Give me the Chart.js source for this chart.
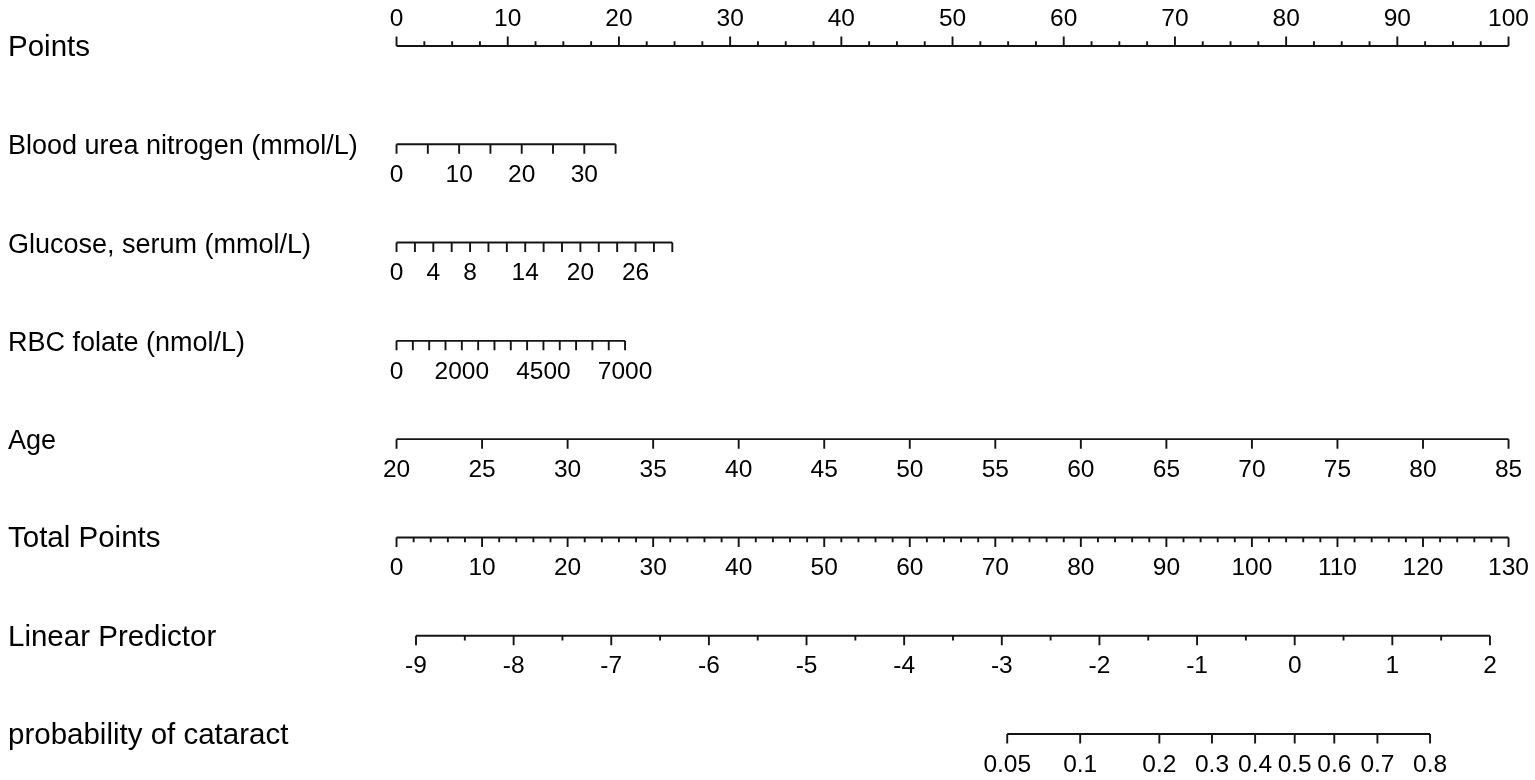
<!DOCTYPE html>
<html>
<head>
<meta charset="utf-8">
<title>Nomogram - probability of cataract</title>
<script src="https://cdn.jsdelivr.net/npm/chart.js@4.4.1/dist/chart.umd.min.js"></script>
<style>
    html, body { margin: 0; padding: 0; background: #ffffff; }
    #wrap { width: 1535px; height: 780px; }
</style>
</head>
<body>
<div id="wrap"><canvas id="nomogram"></canvas></div>
<script>
// Row names, top to bottom
const rowNames = ['Points', 'Blood urea nitrogen (mmol/L)', 'Glucose, serum (mmol/L)',
    'RBC folate (nmol/L)', 'Age', 'Total Points', 'Linear Predictor', 'probability of cataract'];

// Points scale (0-100)
const pointsMajor = [0, 10, 20, 30, 40, 50, 60, 70, 80, 90, 100];
const pointsMinor = [2.5, 5, 7.5, 12.5, 15, 17.5, 22.5, 25, 27.5, 32.5, 35, 37.5, 42.5, 45, 47.5,
    52.5, 55, 57.5, 62.5, 65, 67.5, 72.5, 75, 77.5, 82.5, 85, 87.5, 92.5, 95, 97.5];

// Blood urea nitrogen: value range and matching points at both ends
const bunTicks = [0, 5, 10, 15, 20, 25, 30, 35];
const bunLabels = [0, 10, 20, 30];
const bunRange = [0, 35];
const bunPoints = [0, 19.7];

// Glucose, serum
const gluTicks = [0, 2, 4, 6, 8, 10, 12, 14, 16, 18, 20, 22, 24, 26, 28, 30];
const gluLabels = [0, 4, 8, 14, 20, 26];
const gluRange = [0, 30];
const gluPoints = [0, 24.8];

// RBC folate
const rbcTicks = [0, 500, 1000, 1500, 2000, 2500, 3000, 3500, 4000, 4500, 5000, 5500, 6000, 6500, 7000];
const rbcLabels = [0, 2000, 4500, 7000];
const rbcRange = [0, 7000];
const rbcPoints = [0, 20.55];

// Age
const ageTicks = [20, 25, 30, 35, 40, 45, 50, 55, 60, 65, 70, 75, 80, 85];
const ageRange = [20, 85];
const agePoints = [0, 100];

// Total points (0-130)
const totalMajor = [0, 10, 20, 30, 40, 50, 60, 70, 80, 90, 100, 110, 120, 130];
const totalMinor = [2, 4, 6, 8, 12, 14, 16, 18, 22, 24, 26, 28, 32, 34, 36, 38, 42, 44, 46, 48,
    52, 54, 56, 58, 62, 64, 66, 68, 72, 74, 76, 78, 82, 84, 86, 88, 92, 94, 96, 98,
    102, 104, 106, 108, 112, 114, 116, 118, 122, 124, 126, 128];
const totalRange = [0, 130];
const totalPoints = [0, 100];

// Linear predictor
const lpMajor = [-9, -8, -7, -6, -5, -4, -3, -2, -1, 0, 1, 2];
const lpMinor = [-8.5, -7.5, -6.5, -5.5, -4.5, -3.5, -2.5, -1.5, -0.5, 0.5, 1.5];
const lpRange = [-9, 2];
const lpPoints = [1.75, 98.33];

// Probability of cataract (placed on the linear predictor through the logit)
const probTicks = [0.05, 0.1, 0.2, 0.3, 0.4, 0.5, 0.6, 0.7, 0.8];

function linMap(range, pts) {
    return v => pts[0] + (v - range[0]) * (pts[1] - pts[0]) / (range[1] - range[0]);
}
const lpToPoints = linMap(lpRange, lpPoints);
const probToPoints = p => lpToPoints(Math.log(p / (1 - p)));

// per row: mapping, ticks, labelled values, tick direction
const rows = [
    { map: v => v, major: pointsMajor, minor: pointsMinor, labels: pointsMajor, up: true, big: true },
    { map: linMap(bunRange, bunPoints), major: bunTicks, minor: [], labels: bunLabels },
    { map: linMap(gluRange, gluPoints), major: gluTicks, minor: [], labels: gluLabels },
    { map: linMap(rbcRange, rbcPoints), major: rbcTicks, minor: [], labels: rbcLabels },
    { map: linMap(ageRange, agePoints), major: ageTicks, minor: [], labels: ageTicks },
    { map: linMap(totalRange, totalPoints), major: totalMajor, minor: totalMinor, labels: totalMajor, big: true },
    { map: lpToPoints, major: lpMajor, minor: lpMinor, labels: lpMajor, big: true },
    { map: probToPoints, major: probTicks, minor: [], labels: probTicks, big: true }
];

const ROW_PX = 98.29;          // px per row on the y scale
const MAJOR_LEN = 9.5 / ROW_PX;
const MINOR_LEN = 4.8 / ROW_PX;
const INK = '#141414';

// build line + tick datasets from the arrays above
const datasets = [];
rows.forEach((r, i) => {
    const all = r.major.concat(r.minor);
    const lo = Math.min.apply(null, all), hi = Math.max.apply(null, all);
    datasets.push({
        data: [{ x: r.map(lo), y: i }, { x: r.map(hi), y: i }]
    });
    const dir = r.up ? -1 : 1;
    const segs = [];
    r.major.forEach(v => {
        segs.push({ x: r.map(v), y: i }, { x: r.map(v), y: i + dir * MAJOR_LEN }, { x: r.map(v), y: null });
    });
    r.minor.forEach(v => {
        segs.push({ x: r.map(v), y: i }, { x: r.map(v), y: i + dir * MINOR_LEN }, { x: r.map(v), y: null });
    });
    datasets.push({ data: segs });
});
datasets.forEach(d => {
    d.borderColor = INK;
    d.borderWidth = 1.9;
    d.pointRadius = 0;
    d.fill = false;
    d.spanGaps = false;
    d.tension = 0;
    d.borderCapStyle = 'butt';
});

const textPlugin = {
    id: 'nomoText',
    afterDatasetsDraw(chart) {
        const ctx = chart.ctx;
        const xs = chart.scales.x, ys = chart.scales.y;
        ctx.save();
        ctx.fillStyle = '#000000';
        rows.forEach((r, i) => {
            const yPix = ys.getPixelForValue(i);
            ctx.textAlign = 'left';
            ctx.textBaseline = 'alphabetic';
            ctx.font = (r.big ? '29.5px' : '27px') + ' "Liberation Sans", Arial, sans-serif';
            ctx.fillText(rowNames[i], 8, yPix + 10);
            ctx.textAlign = 'center';
            ctx.textBaseline = 'middle';
            ctx.font = '24.5px "Liberation Sans", Arial, sans-serif';
            r.labels.forEach(v => {
                const xp = xs.getPixelForValue(r.map(v));
                const yy = r.up ? yPix - 27 : yPix + 31;
                ctx.fillText(String(v), xp, yy);
            });
        });
        ctx.restore();
    }
};

document.addEventListener('DOMContentLoaded', function () {
    const canvas = document.getElementById('nomogram');
    new Chart(canvas.getContext('2d'), {
        type: 'line',
        data: { datasets: datasets },
        options: {
            responsive: true,
            maintainAspectRatio: false,
            animation: false,
            layout: { padding: 0 },
            plugins: {
                legend: { display: false },
                tooltip: { enabled: false }
            },
            scales: {
                x: { type: 'linear', min: -35.66, max: 102.38, display: false },
                y: { type: 'linear', min: -0.468, max: 7.468, reverse: true, display: false }
            }
        },
        plugins: [textPlugin]
    });
});
</script>
</body>
</html>
